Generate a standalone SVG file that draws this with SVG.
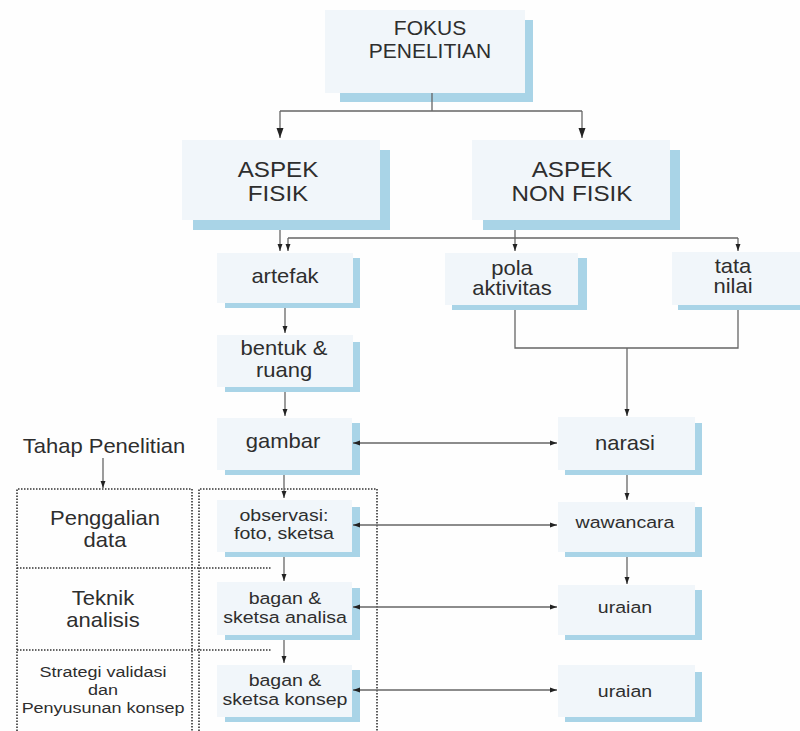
<svg xmlns="http://www.w3.org/2000/svg" width="800" height="731" viewBox="0 0 800 731">
<style>
  .bg{fill:#fefefe}
  .sh{fill:#a9d4e7}
  .bx{fill:#f1f6fa}
  text{font-family:"Liberation Sans",Arial,sans-serif;fill:#2e2e2e;text-anchor:middle}
  .xl{font-size:22px}
  .fk{font-size:21px}
  .l{font-size:20px}
  .m{font-size:17px}
  .s{font-size:15.5px}
  .ln{fill:none;stroke:#666;stroke-width:1.3}
  .dot{fill:none;stroke:#333;stroke-width:1.6;stroke-dasharray:1.5 1.5}
</style>
<defs>
  <marker id="ah" markerUnits="userSpaceOnUse" markerWidth="10" markerHeight="10" viewBox="0 0 10 10" refX="10" refY="5" orient="auto-start-reverse">
    <path d="M0,1.5 L10,5 L0,8.5 Z" fill="#222"/>
  </marker>
  <marker id="ahs" markerUnits="userSpaceOnUse" markerWidth="7" markerHeight="7" viewBox="0 0 10 10" refX="10" refY="5" orient="auto-start-reverse">
    <path d="M0,1.5 L10,5 L0,8.5 Z" fill="#222"/>
  </marker>
</defs>
<rect class="bg" x="0" y="0" width="800" height="731"/>

<g id="stage-frames">
  <path class="dot" d="M17,731 V489 H192 V731"/>
  <path class="dot" d="M199,731 V489 H377 V731"/>
  <path class="dot" d="M17,568 H272"/>
  <path class="dot" d="M17,650 H272"/>
</g>

<g id="fokus">
  <rect class="sh" x="340" y="20" width="193" height="82"/>
  <rect class="bx" x="325" y="10" width="200" height="83"/>
  <text class="fk" x="430" y="35">FOKUS</text>
  <text class="fk" x="430" y="58">PENELITIAN</text>
</g>
<g id="aspek-fisik">
  <rect class="sh" x="193" y="150" width="197" height="80"/>
  <rect class="bx" x="182" y="140" width="198" height="80"/>
  <text class="xl" transform="translate(278 177) scale(1.1 1)">ASPEK</text>
  <text class="xl" transform="translate(278 201) scale(1.1 1)">FISIK</text>
</g>
<g id="aspek-non-fisik">
  <rect class="sh" x="483" y="150" width="197" height="80"/>
  <rect class="bx" x="472" y="140" width="198" height="80"/>
  <text class="xl" transform="translate(572 177) scale(1.1 1)">ASPEK</text>
  <text class="xl" transform="translate(572 201) scale(1.1 1)">NON FISIK</text>
</g>
<g id="artefak">
  <rect class="sh" x="225" y="258" width="135" height="50"/>
  <rect class="bx" x="217" y="253" width="136" height="50"/>
  <text class="l" transform="translate(285 283) scale(1.1 1)">artefak</text>
</g>
<g id="bentuk-ruang">
  <rect class="sh" x="225" y="342" width="135" height="50"/>
  <rect class="bx" x="217" y="335" width="136" height="52"/>
  <text class="l" transform="translate(284 355) scale(1.1 1)">bentuk &amp;</text>
  <text class="l" transform="translate(284 377) scale(1.1 1)">ruang</text>
</g>
<g id="gambar">
  <rect class="sh" x="225" y="423" width="135" height="52"/>
  <rect class="bx" x="217" y="418" width="135" height="52"/>
  <text class="l" transform="translate(283 448) scale(1.1 1)">gambar</text>
</g>
<g id="observasi">
  <rect class="sh" x="225" y="507" width="135" height="50"/>
  <rect class="bx" x="217" y="500" width="135" height="52"/>
  <text class="m" transform="translate(284 521) scale(1.15 1)">observasi:</text>
  <text class="m" transform="translate(284 539) scale(1.15 1)">foto, sketsa</text>
</g>
<g id="bagan-analisa">
  <rect class="sh" x="225" y="588" width="135" height="52"/>
  <rect class="bx" x="217" y="582" width="135" height="53"/>
  <text class="m" transform="translate(285 604) scale(1.15 1)">bagan &amp;</text>
  <text class="m" transform="translate(285 623) scale(1.15 1)">sketsa analisa</text>
</g>
<g id="bagan-konsep">
  <rect class="sh" x="225" y="670" width="135" height="52"/>
  <rect class="bx" x="217" y="665" width="135" height="52"/>
  <text class="m" transform="translate(285 686) scale(1.15 1)">bagan &amp;</text>
  <text class="m" transform="translate(285 705) scale(1.15 1)">sketsa konsep</text>
</g>
<g id="pola-aktivitas">
  <rect class="sh" x="452" y="258" width="135" height="52"/>
  <rect class="bx" x="445" y="253" width="133" height="52"/>
  <text class="l" transform="translate(512 275) scale(1.1 1)">pola</text>
  <text class="l" transform="translate(512 295) scale(1.1 1)">aktivitas</text>
</g>
<g id="tata-nilai">
  <rect class="sh" x="678" y="258" width="140" height="52"/>
  <rect class="bx" x="672" y="252" width="140" height="53"/>
  <text class="l" transform="translate(733 273) scale(1.1 1)">tata</text>
  <text class="l" transform="translate(733 293) scale(1.1 1)">nilai</text>
</g>
<g id="narasi">
  <rect class="sh" x="565" y="423" width="137" height="52"/>
  <rect class="bx" x="558" y="417" width="137" height="53"/>
  <text class="l" transform="translate(625 450) scale(1.1 1)">narasi</text>
</g>
<g id="wawancara">
  <rect class="sh" x="565" y="507" width="137" height="50"/>
  <rect class="bx" x="558" y="502" width="137" height="50"/>
  <text class="m" transform="translate(625 528) scale(1.15 1)">wawancara</text>
</g>
<g id="uraian-1">
  <rect class="sh" x="565" y="590" width="137" height="50"/>
  <rect class="bx" x="558" y="585" width="137" height="50"/>
  <text class="m" transform="translate(625 613) scale(1.15 1)">uraian</text>
</g>
<g id="uraian-2">
  <rect class="sh" x="565" y="672" width="137" height="50"/>
  <rect class="bx" x="558" y="665" width="137" height="52"/>
  <text class="m" transform="translate(625 697) scale(1.15 1)">uraian</text>
</g>

<g id="tahap-penelitian">
  <text class="l" transform="translate(104 453) scale(1.1 1)">Tahap Penelitian</text>
</g>
<g id="penggalian-data">
  <text class="l" transform="translate(105 525) scale(1.1 1)">Penggalian</text>
  <text class="l" transform="translate(105 547) scale(1.1 1)">data</text>
</g>
<g id="teknik-analisis">
  <text class="l" transform="translate(103 605) scale(1.1 1)">Teknik</text>
  <text class="l" transform="translate(103 627) scale(1.1 1)">analisis</text>
</g>
<g id="strategi-validasi">
  <text class="s" transform="translate(103 677) scale(1.16 1)">Strategi validasi</text>
  <text class="s" transform="translate(103 695) scale(1.16 1)">dan</text>
  <text class="s" transform="translate(103 713) scale(1.16 1)">Penyusunan konsep</text>
</g>

<g id="connectors">
  <path class="ln" d="M432,93 V111 M280,111 H582"/>
  <path class="ln" d="M280,111 V138" marker-end="url(#ah)"/>
  <path class="ln" d="M582,111 V138" marker-end="url(#ah)"/>
  <path class="ln" d="M280,230 V251" marker-end="url(#ahs)"/>
  <path class="ln" d="M515,230 V238 M288,238 H738"/>
  <path class="ln" d="M288,238 V251" marker-end="url(#ahs)"/>
  <path class="ln" d="M515,238 V251" marker-end="url(#ahs)"/>
  <path class="ln" d="M738,238 V251" marker-end="url(#ahs)"/>
  <path class="ln" d="M285,308 V333" marker-end="url(#ahs)"/>
  <path class="ln" d="M285,392 V416" marker-end="url(#ahs)"/>
  <path class="ln" d="M284,475 V498" marker-end="url(#ahs)"/>
  <path class="ln" d="M284,557 V581" marker-end="url(#ahs)"/>
  <path class="ln" d="M284,640 V663" marker-end="url(#ahs)"/>
  <path class="ln" d="M515,310 V348 H738 V310"/>
  <path class="ln" d="M627,348 V416" marker-end="url(#ahs)"/>
  <path class="ln" d="M627,475 V500" marker-end="url(#ahs)"/>
  <path class="ln" d="M627,557 V584" marker-end="url(#ahs)"/>
  <path class="ln" d="M353,443 H557" marker-start="url(#ahs)" marker-end="url(#ahs)"/>
  <path class="ln" d="M353,525 H557" marker-start="url(#ahs)" marker-end="url(#ahs)"/>
  <path class="ln" d="M353,607 H557" marker-start="url(#ahs)" marker-end="url(#ahs)"/>
  <path class="ln" d="M353,690 H557" marker-start="url(#ahs)" marker-end="url(#ahs)"/>
  <path class="ln" d="M103,458 V488" marker-end="url(#ahs)"/>
</g>
</svg>
